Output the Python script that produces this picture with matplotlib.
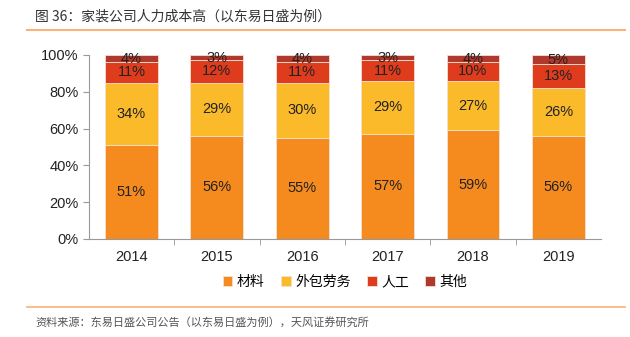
import matplotlib.pyplot as plt
import numpy as np

plt.rcParams['font.family'] = ['Noto Sans CJK SC', 'DejaVu Sans']

years = ['2014', '2015', '2016', '2017', '2018', '2019']
series_names = ['材料', '外包劳务', '人工', '其他']
material = [51, 56, 55, 57, 59, 56]
outsourcing = [34, 29, 30, 29, 27, 26]
labor = [11, 12, 11, 11, 10, 13]
other = [4, 3, 4, 3, 4, 5]
colors = ['#F58A1F', '#FBBA2A', '#DF3C1E', '#B0392D']

fig = plt.figure(figsize=(6.3, 3.37), dpi=100)
ax = fig.add_axes([0.141, 0.291, 0.813, 0.546])

x = np.arange(len(years))
bottom = np.zeros(len(years))
for name, vals, c in zip(series_names, [material, outsourcing, labor, other], colors):
    vals = np.array(vals)
    ax.bar(x, vals, 0.62, bottom=bottom, color=c, label=name,
           edgecolor='#f3e0d0', linewidth=0.6)
    for xi, b, v in zip(x, bottom, vals):
        ax.text(xi, b + v / 2, f'{v}%', ha='center', va='center',
                fontsize=10.5, color='#222222', family='Liberation Sans')
    bottom += vals

ax.set_xlim(-0.5, len(years) - 0.5)
ax.set_ylim(0, 100)
ax.set_yticks(range(0, 101, 20))
ax.set_yticklabels([f'{v}%' for v in range(0, 101, 20)], family='Liberation Sans')
ax.set_xticks(x)
ax.set_xticklabels(years, family='Liberation Sans')
ax.set_xticks(np.arange(0.5, len(years) - 0.5, 1), minor=True)
ax.tick_params(axis='x', which='major', length=0, labelsize=10.5, colors='#222222', pad=8)
ax.tick_params(axis='x', which='minor', length=4, color='#999999')
ax.tick_params(axis='y', length=4, color='#999999', labelsize=10.5, labelcolor='#222222')
for s in ['top', 'right']:
    ax.spines[s].set_visible(False)
for s in ['left', 'bottom']:
    ax.spines[s].set_color('#999999')
    ax.spines[s].set_linewidth(0.8)

ax.legend(loc='center', bbox_to_anchor=(0.5, -0.235), ncol=4, frameon=False,
          fontsize=10, handlelength=0.7, handleheight=0.7, handletextpad=0.3,
          columnspacing=1.2)

fig.text(35 / 630, 1 - 17 / 337, '图 36：家装公司人力成本高（以东易日盛为例）',
         fontsize=10, color='#333333', va='center')
fig.add_artist(plt.Line2D([27 / 630, 625 / 630], [1 - 30 / 337, 1 - 30 / 337],
                          color='#F9B27A', linewidth=1.5))
fig.add_artist(plt.Line2D([27 / 630, 625 / 630], [1 - 307 / 337, 1 - 307 / 337],
                          color='#F9B27A', linewidth=1.2))
fig.text(35 / 630, 1 - 322 / 337, '资料来源：东易日盛公司公告（以东易日盛为例），天风证券研究所',
         fontsize=8, color='#555555', va='center')

fig.savefig('out.png', dpi=100)
